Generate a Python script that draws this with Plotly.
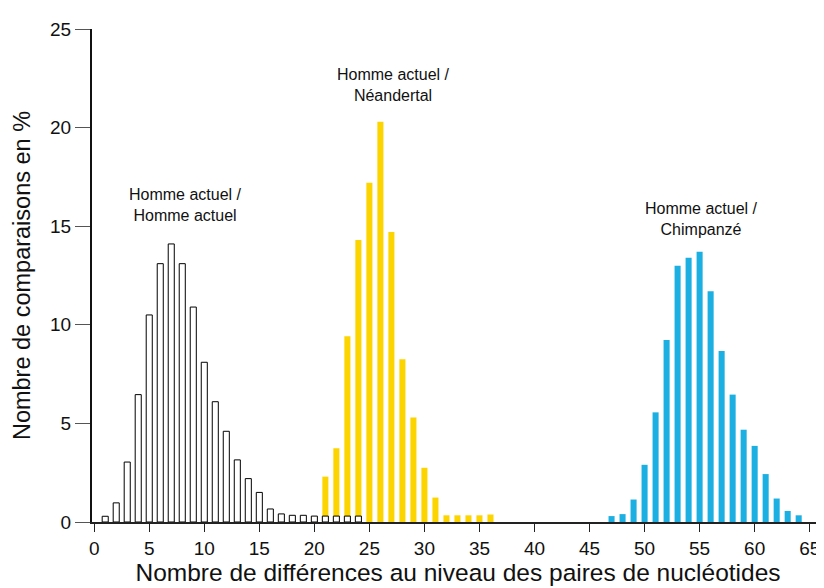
import plotly.graph_objects as go

# Homme actuel / Homme actuel (white bars)
x_hh = list(range(1, 25))
y_hh = [0.29, 0.97, 3.04, 6.46, 10.5, 13.1, 14.1, 13.1, 10.9, 8.1, 6.1, 4.6,
        3.15, 2.2, 1.5, 0.66, 0.41, 0.34, 0.34, 0.3, 0.3, 0.3, 0.3, 0.3]

# Homme actuel / Néandertal (yellow bars)
x_hn = list(range(20, 37))
y_hn = [0.3, 2.3, 3.74, 9.42, 14.3, 17.2, 20.3, 14.7, 8.25, 5.3, 2.75, 1.24,
        0.34, 0.34, 0.34, 0.34, 0.38]

# Homme actuel / Chimpanzé (blue bars)
x_hc = list(range(47, 65))
y_hc = [0.3, 0.4, 1.14, 2.9, 5.56, 9.23, 13.0, 13.4, 13.7, 11.7, 8.67, 6.46,
        4.68, 3.86, 2.43, 1.19, 0.56, 0.34]

labels = ["Homme actuel /<br>Homme actuel",
          "Homme actuel /<br>Néandertal",
          "Homme actuel /<br>Chimpanzé"]
label_x = [8.3, 27.2, 55.15]
label_y = [15.0, 21.1, 14.3]

x_ticks = list(range(0, 70, 5))
y_ticks = list(range(0, 30, 5))

FONT = "Liberation Sans, Arial, sans-serif"

fig = go.Figure()
fig.add_trace(go.Bar(x=x_hn, y=y_hn, width=0.55,
                     marker=dict(color="#FCD500", line=dict(width=0))))
fig.add_trace(go.Bar(x=x_hc, y=y_hc, width=0.55,
                     marker=dict(color="#1CAFE2", line=dict(width=0))))
fig.add_trace(go.Bar(x=x_hh, y=y_hh, width=0.55,
                     marker=dict(color="white", line=dict(color="black", width=1))))

for t, lx, ly in zip(labels, label_x, label_y):
    fig.add_annotation(x=lx, y=ly, text=t, showarrow=False,
                       font=dict(family=FONT, size=16, color="#111"),
                       align="center", yanchor="bottom")

fig.update_layout(
    width=816, height=580,
    margin=dict(l=84, r=0, t=21, b=66),
    paper_bgcolor="white", plot_bgcolor="white",
    barmode="overlay", showlegend=False,
    font=dict(family=FONT, color="#111"),
    xaxis=dict(range=[-0.2, 66.3], tickvals=x_ticks,
               ticks="outside", ticklen=8, tickwidth=1, tickcolor="#222",
               showline=True, linecolor="#222", linewidth=1.5,
               showgrid=False, zeroline=False,
               tickfont=dict(family=FONT, size=19, color="#111"),
               title=dict(text="Nombre de différences au niveau des paires de nucléotides",
                          font=dict(family=FONT, size=24.5, color="#111"), standoff=4),
               automargin=False),
    yaxis=dict(range=[0, 25], tickvals=y_ticks,
               ticks="outside", ticklen=15, tickwidth=1, tickcolor="#555",
               showline=True, linecolor="#111", linewidth=2,
               showgrid=False, zeroline=False,
               tickfont=dict(family=FONT, size=19, color="#111"),
               title=dict(text="Nombre de comparaisons en %",
                          font=dict(family=FONT, size=23.5, color="#111"), standoff=13),
               automargin=False),
)

fig.write_html("out.html")
